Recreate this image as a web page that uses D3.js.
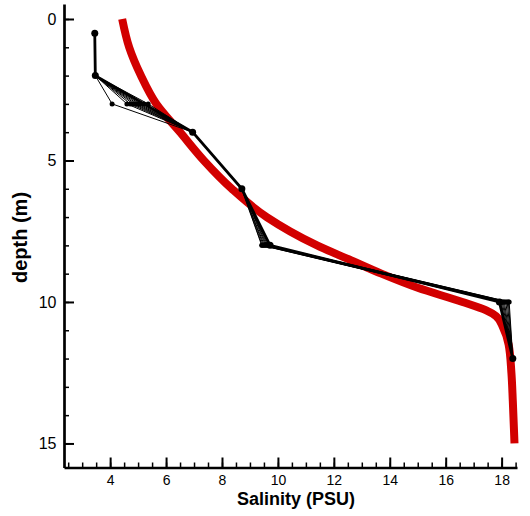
<!DOCTYPE html>
<html>
<head>
<meta charset="utf-8">
<script src="https://cdn.jsdelivr.net/npm/d3@7"></script>
<style>
  body { margin: 0; background: #fff; }
  svg { display: block; font-family: "Liberation Sans", Arial, sans-serif; }
</style>
</head>
<body>
<svg id="chart" width="530" height="516"></svg>
<script>
// sampling depths shared by all ensemble profiles (m)
const depths = [0.5, 2, 3, 4, 6, 8, 10, 12];

// thin black profiles, salinity at each depth (PSU)
const ensembleSalinity = [
  [3.45, 3.47, 4.07, 6.95, 8.70, 9.42, 17.94, 18.40],
  [3.45, 3.47, 4.60, 6.95, 8.71, 9.44, 17.98, 18.40],
  [3.45, 3.47, 4.72, 6.95, 8.72, 9.48, 18.02, 18.40],
  [3.45, 3.47, 4.82, 6.95, 8.70, 9.52, 18.06, 18.40],
  [3.45, 3.47, 4.90, 6.95, 8.73, 9.56, 18.10, 18.40],
  [3.45, 3.47, 4.98, 6.95, 8.72, 9.60, 18.15, 18.40],
  [3.45, 3.47, 5.06, 6.95, 8.71, 9.64, 18.20, 18.40],
  [3.45, 3.47, 5.20, 6.95, 8.70, 9.68, 18.24, 18.40],
  [3.45, 3.47, 5.36, 6.95, 8.72, 9.70, 18.27, 18.40]
];

// thick black profile
const observedDepth = [0.5, 2, 4, 6, 8, 10, 12];
const observedSalinity = [3.45, 3.47, 6.95, 8.71, 9.72, 17.92, 18.40];

// red model curve
const modelDepth = [0, 1, 2, 3, 4, 5, 6, 7, 8, 8.5, 9, 9.5, 10, 10.3, 10.5, 10.9, 11.5, 12.5, 13.5, 15];
const modelSalinity = [4.43, 4.68, 5.1, 5.65, 6.5, 7.35, 8.35, 9.6, 11.4, 12.55, 13.7, 15.0, 16.6, 17.45, 17.8, 18.05, 18.25, 18.35, 18.4, 18.46];

const xTicks = [4, 6, 8, 10, 12, 14, 16, 18];
const yTicks = [0, 5, 10, 15];

const svg = d3.select("#chart");

const x = d3.scaleLinear()
            .domain([2.35, 18.55])
            .range([64, 517]);

const y = d3.scaleLinear()
            .domain([-0.53, 15.85])
            .range([4, 467.5]);

// minor ticks first so the major ones sit on top
svg.append("g")
   .attr("class", "x-minor")
   .attr("transform", "translate(0," + y.range()[1] + ")")
   .call(d3.axisBottom(x).tickValues(d3.range(2.5, 18.51, 0.5)).tickSizeInner(-5).tickSizeOuter(0).tickFormat(""));

svg.append("g")
   .attr("class", "y-minor")
   .attr("transform", "translate(" + x.range()[0] + ",0)")
   .call(d3.axisLeft(y).tickValues(d3.range(0, 16, 1)).tickSizeInner(-5).tickSizeOuter(0).tickFormat(""));

const xAxis = svg.append("g")
   .attr("class", "x-axis")
   .attr("transform", "translate(0," + y.range()[1] + ")")
   .call(d3.axisBottom(x).tickValues(xTicks).tickSizeInner(-10).tickSizeOuter(0).tickPadding(7.5));

const yAxis = svg.append("g")
   .attr("class", "y-axis")
   .attr("transform", "translate(" + x.range()[0] + ",0)")
   .call(d3.axisLeft(y).tickValues(yTicks).tickSizeInner(-10).tickSizeOuter(0).tickPadding(7.5));

svg.selectAll(".x-minor line, .y-minor line").attr("stroke", "#000").attr("stroke-width", 1.5);
svg.selectAll(".x-minor path, .y-minor path").remove();
svg.selectAll(".x-axis line, .y-axis line").attr("stroke", "#000").attr("stroke-width", 2);
svg.selectAll(".x-axis path, .y-axis path").attr("stroke", "#000").attr("stroke-width", 2.7);
svg.selectAll(".x-axis text, .y-axis text")
   .attr("fill", "#000")
   .style("font-family", "'Liberation Sans', Arial, sans-serif");
svg.selectAll(".x-axis text").style("font-size", "14px");
svg.selectAll(".y-axis text").style("font-size", "16px");

svg.append("text")
   .attr("x", 296)
   .attr("y", 505)
   .attr("text-anchor", "middle")
   .style("font-size", "18px")
   .style("font-weight", "bold")
   .text("Salinity (PSU)");

svg.append("text")
   .attr("transform", "translate(27,237.5) rotate(-90)")
   .attr("text-anchor", "middle")
   .style("font-size", "20px")
   .style("font-weight", "bold")
   .text("depth (m)");

// model curve
const modelLine = d3.line()
                    .x((d, i) => x(modelSalinity[i]))
                    .y(d => y(d))
                    .curve(d3.curveMonotoneY);

svg.append("path")
   .datum(modelDepth)
   .attr("d", modelLine)
   .attr("fill", "none")
   .attr("stroke", "#d20000")
   .attr("stroke-width", 8);

// ensemble profiles
const g = svg.append("g").attr("class", "profiles");

ensembleSalinity.forEach(sal => {
    const pts = depths.map((d, i) => [x(sal[i]), y(d)]);
    g.append("path")
     .attr("d", d3.line()(pts))
     .attr("fill", "none")
     .attr("stroke", "#000")
     .attr("stroke-width", 1);
    g.selectAll(null)
     .data(pts)
     .enter()
     .append("circle")
     .attr("cx", p => p[0])
     .attr("cy", p => p[1])
     .attr("r", 2.5)
     .attr("fill", "#000");
});

const obsPts = observedDepth.map((d, i) => [x(observedSalinity[i]), y(d)]);
g.append("path")
 .attr("d", d3.line()(obsPts))
 .attr("fill", "none")
 .attr("stroke", "#000")
 .attr("stroke-width", 2.8);
g.selectAll(null)
 .data(obsPts)
 .enter()
 .append("circle")
 .attr("cx", p => p[0])
 .attr("cy", p => p[1])
 .attr("r", 3.5)
 .attr("fill", "#000");
</script>
</body>
</html>
